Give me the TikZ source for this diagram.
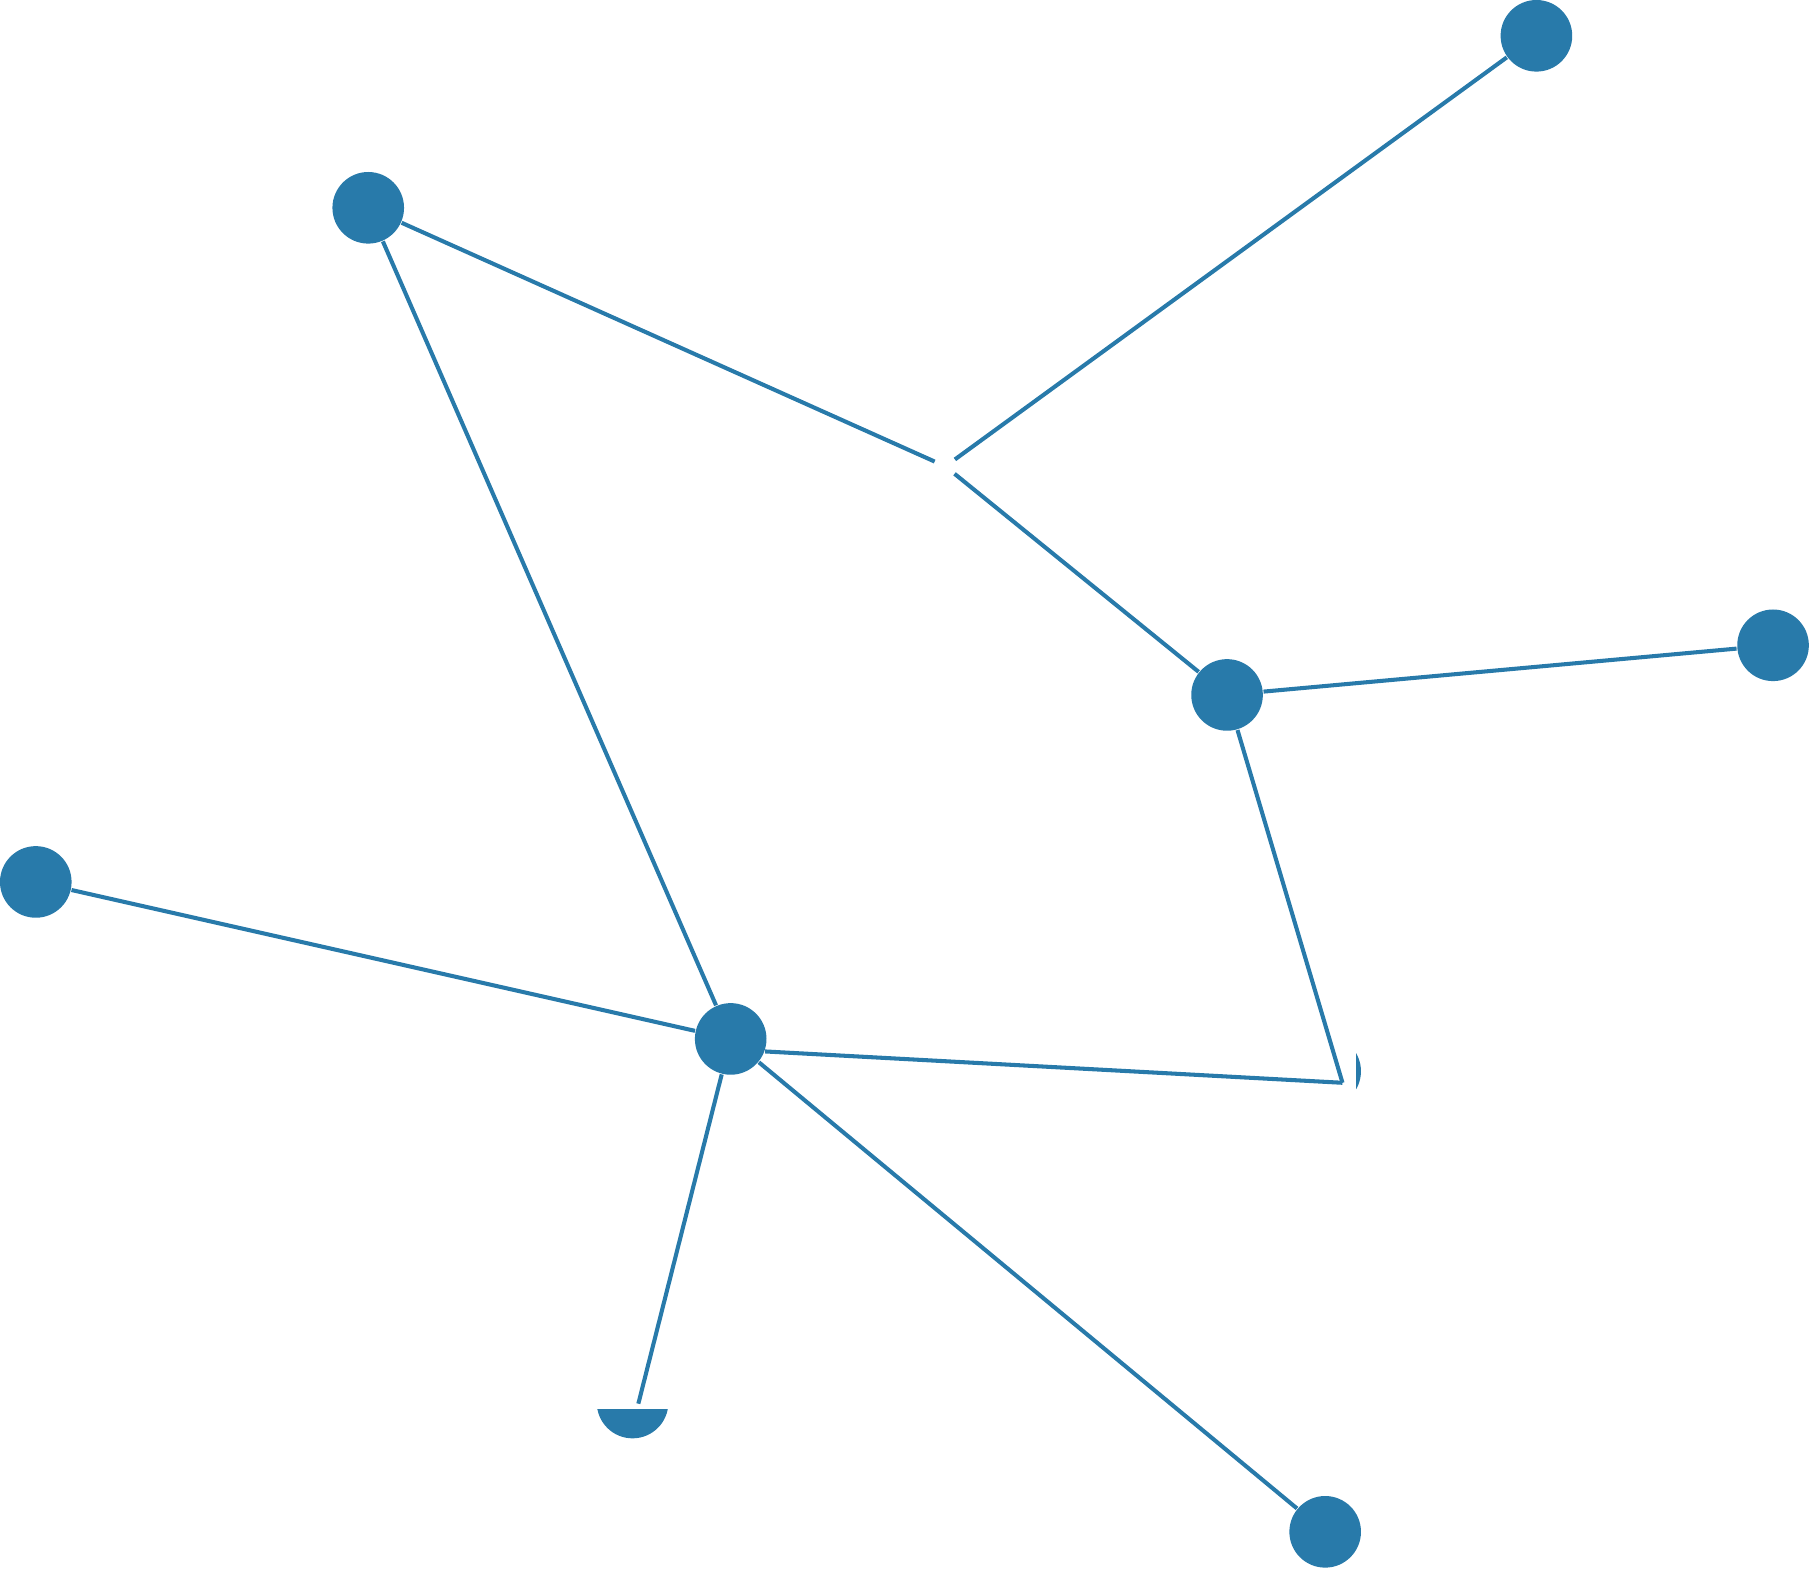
\documentclass[tikz,border=0pt]{standalone}
\usepackage{tikz}
\usetikzlibrary{calc}
\definecolor{vblue}{RGB}{40,122,170}

\begin{document}
\begin{tikzpicture}[x=0.01cm, y=-0.01cm]
		% Define styles
		\tikzset{
			vertex/.style={circle, fill=vblue, minimum size=0.62cm, inner sep=0pt},
			hole/.style={circle, fill=white, minimum size=0.19cm, inner sep=0pt},
			mask/.style={fill=white, draw=none},
			line/.style={draw=vblue, line width=1pt}
		}
		\useasboundingbox (0,0) rectangle (1568,1358.4);
		
		% Nodes
		\node[vertex] (n1) at (1331,31) {};
		\node[vertex] (n2) at (319,180) {};
		\node[vertex] (n3) at (1063,602) {};
		\node[vertex] (n4) at (1536,559) {};
		\node[vertex] (n5) at (31,764) {};
		\node[vertex] (n6) at (633,900) {};
		\node[vertex] (n7) at (1148,1327) {};
		\node[hole] (h) at (819,404) {};
		
		% half hidden ones
		\node[vertex] (p1) at (1148,928) {};
		\fill[mask] (1110,890) rectangle (1175,966);
		\node[vertex] (p2) at (548,1215) {};
		\fill[mask] (510,1175) rectangle (586,1221);
		\coordinate (pc) at (1163,938);
		\coordinate (pe) at (553,1216);
		
		% Edges
		\draw[line] (n1) -- (h);
		\draw[line] (n2) -- (h);
		\draw[line] (h) -- (n3);
		\draw[line] (n2) -- (n6);
		\draw[line] (n5) -- (n6);
		\draw[line] (n3) -- (n4);
		\draw[line] (n3) -- (pc);
		\draw[line] (n6.-20) -- (pc);
		\draw[line] (n6) -- (n7);
		\draw[line] (n6) -- (pe);
	\end{tikzpicture}
\end{document}
